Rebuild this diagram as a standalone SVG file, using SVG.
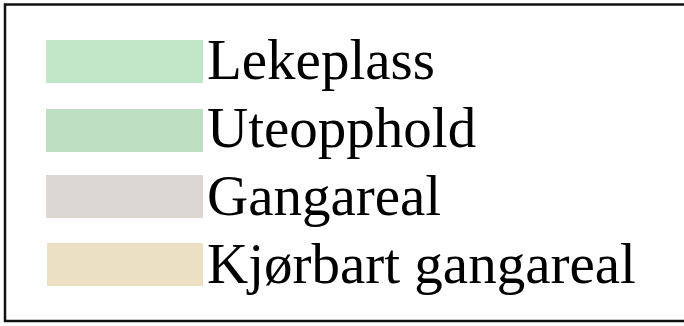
<svg xmlns="http://www.w3.org/2000/svg" width="684" height="326" viewBox="0 0 684 326">
<style>
.lbl{font-family:"Liberation Serif","Times New Roman",serif;font-size:57px;fill:#000}
</style>
<rect x="0" y="0" width="684" height="326" fill="#fff"/>
<g id="frame">
<path d="M690 4.5 H5 V321 H690" fill="none" stroke="#111" stroke-width="2.5"/>
</g>
<g id="lekeplass">
<rect x="46" y="40" width="157" height="43" fill="#c2e6c8"/>
<text class="lbl" x="207" y="79">Lekeplass</text>
</g>
<g id="uteopphold">
<rect x="46" y="109" width="157" height="43" fill="#bfdfc2"/>
<text class="lbl" x="207" y="147">Uteopphold</text>
</g>
<g id="gangareal">
<rect x="46" y="175" width="157" height="43" fill="#dbd7d2"/>
<text class="lbl" x="207" y="215">Gangareal</text>
</g>
<g id="kjorbart">
<rect x="47" y="243" width="156" height="43" fill="#ebe0c4"/>
<text class="lbl" x="207" y="283">Kjørbart gangareal</text>
</g>
<g id="connectors"></g>
</svg>
